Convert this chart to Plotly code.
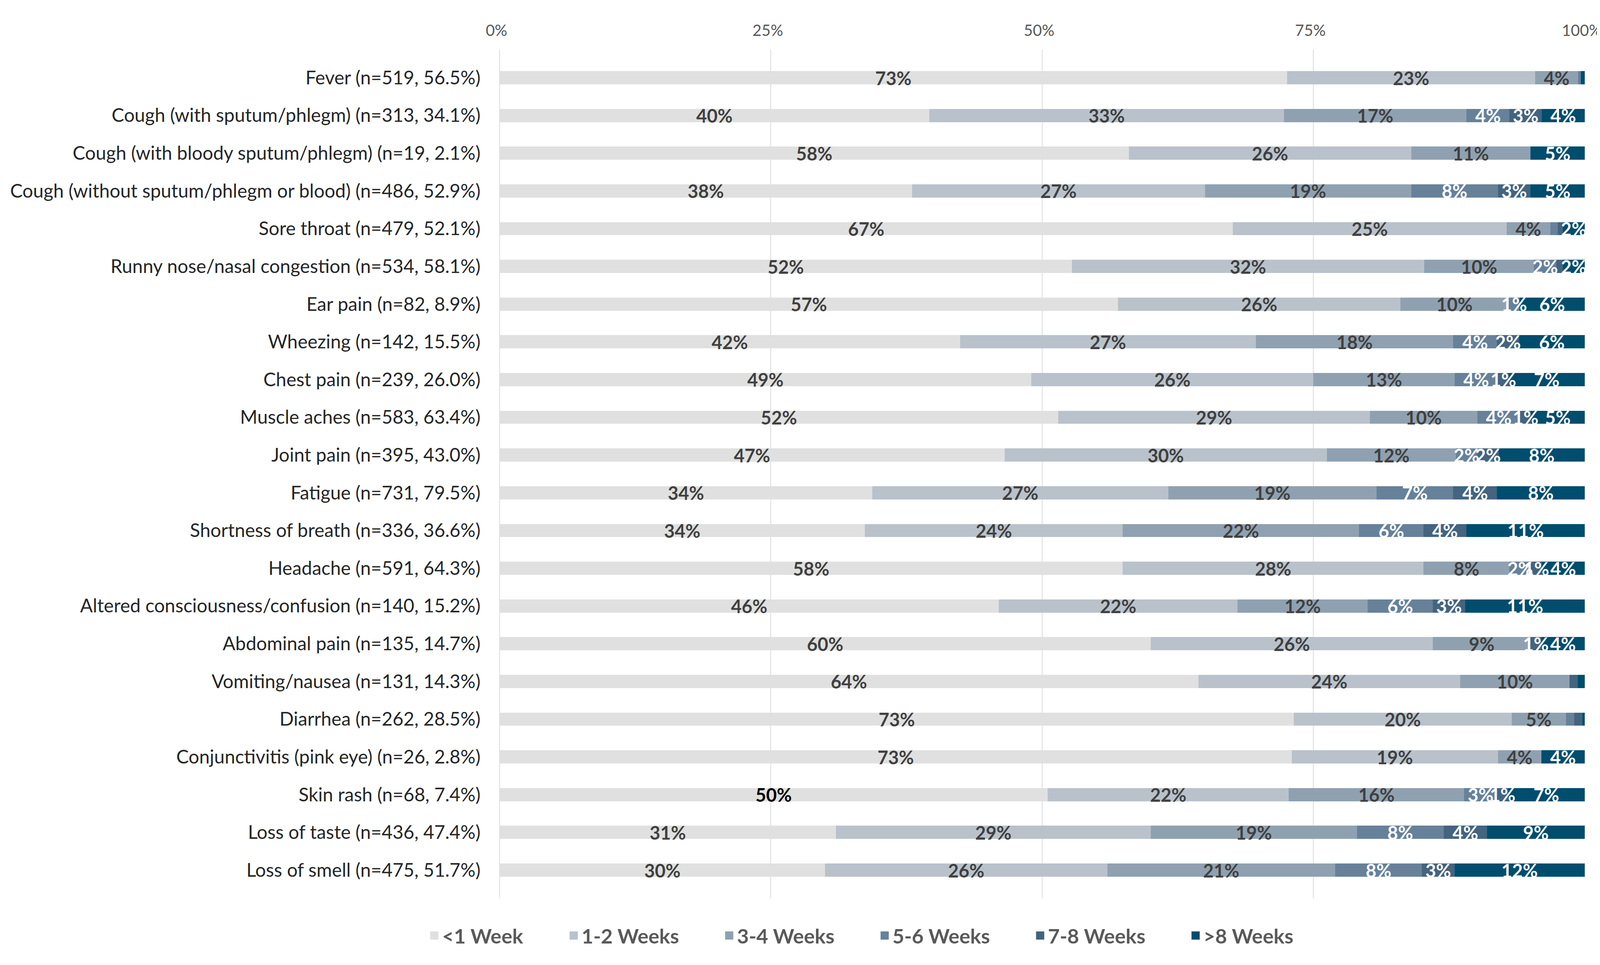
import plotly.graph_objects as go

categories = [
    "Fever (n=519, 56.5%)",
    "Cough (with sputum/phlegm) (n=313, 34.1%)",
    "Cough (with bloody sputum/phlegm) (n=19, 2.1%)",
    "Cough (without sputum/phlegm or blood) (n=486, 52.9%)",
    "Sore throat (n=479, 52.1%)",
    "Runny nose/nasal congestion (n=534, 58.1%)",
    "Ear pain (n=82, 8.9%)",
    "Wheezing (n=142, 15.5%)",
    "Chest pain (n=239, 26.0%)",
    "Muscle aches (n=583, 63.4%)",
    "Joint pain (n=395, 43.0%)",
    "Fatigue (n=731, 79.5%)",
    "Shortness of breath (n=336, 36.6%)",
    "Headache (n=591, 64.3%)",
    "Altered consciousness/confusion (n=140, 15.2%)",
    "Abdominal pain (n=135, 14.7%)",
    "Vomiting/nausea (n=131, 14.3%)",
    "Diarrhea (n=262, 28.5%)",
    "Conjunctivitis (pink eye) (n=26, 2.8%)",
    "Skin rash (n=68, 7.4%)",
    "Loss of taste (n=436, 47.4%)",
    "Loss of smell (n=475, 51.7%)",
]

series_names = ["<1 Week", "1-2 Weeks", "3-4 Weeks", "5-6 Weeks", "7-8 Weeks", ">8 Weeks"]

lt1_week = [73, 40, 58, 38, 67, 52, 57, 42, 49, 52, 47, 34, 34, 58, 46, 60, 64, 73, 73, 50, 31, 30]
weeks_1_2 = [23, 33, 26, 27, 25, 32, 26, 27, 26, 29, 30, 27, 24, 28, 22, 26, 24, 20, 19, 22, 29, 26]
weeks_3_4 = [4, 17, 11, 19, 4, 10, 10, 18, 13, 10, 12, 19, 22, 8, 12, 9, 10, 5, 4, 16, 19, 21]
weeks_5_6 = [0.25, 4, 0, 8, 0.7, 2, 1, 4, 4, 4, 2, 7, 6, 2, 6, 0, 0, 0.75, 0, 3, 8, 8]
weeks_7_8 = [0, 3, 0, 3, 0.45, 0.6, 0, 2, 1, 1, 2, 4, 4, 1, 3, 1, 0.75, 0.78, 0, 1, 4, 3]
gt8_weeks = [0.35, 4, 5, 5, 2, 2, 6, 6, 7, 5, 8, 8, 11, 4, 11, 4, 0.65, 0.2, 4, 7, 9, 12]

x_tick_vals = [0, 25, 50, 75, 100]
x_tick_text = ["0%", "25%", "50%", "75%", "100%"]

all_series = [lt1_week, weeks_1_2, weeks_3_4, weeks_5_6, weeks_7_8, gt8_weeks]
colors = ["#e0e0e0", "#b9c2cb", "#8fa1b1", "#67819a", "#44647f", "#004d6e"]
label_colors = ["#404040", "#404040", "#404040", "#ffffff", "#ffffff", "#ffffff"]
legend_widths = [312, 353, 353, 353, 353, 353]

FONT = "Lato"
n = len(categories)
pad = 0.745
label_drop = 0.07  # small downward nudge of data labels (style)
fig = go.Figure()

# stacked bars (normalised to 100% by plotly)
for name, vals, col in zip(series_names, all_series, colors):
    fig.add_trace(go.Bar(
        y=categories, x=vals, name=name, orientation="h",
        marker=dict(color=col, line=dict(width=0)),
        showlegend=False, legendgroup=name, hoverinfo="skip",
    ))

# data labels drawn above all bars (centre of each normalised segment)
totals = [sum(s[i] for s in all_series) for i in range(n)]
left = [0.0] * n
skin_idx = categories.index("Skin rash (n=68, 7.4%)")
for name, vals, lcol in zip(series_names, all_series, label_colors):
    xs, ys, ts, cs = [], [], [], []
    for i, v in enumerate(vals):
        if v >= 1:
            xs.append((left[i] + v / 2.0) / totals[i] * 100.0)
            ys.append(i + label_drop)
            ts.append(f"{v:.0f}%")
            cs.append("#000000" if (name == "<1 Week" and i == skin_idx) else lcol)
        left[i] += v
    fig.add_trace(go.Scatter(
        x=xs, y=ys, yaxis="y2", mode="text", text=ts, textposition="middle center",
        textfont=dict(family=FONT, size=47, color=cs, weight="bold"),
        showlegend=False, hoverinfo="skip", cliponaxis=False,
    ))

# legend entries (square swatches)
for name, col, lw in zip(series_names, colors, legend_widths):
    fig.add_trace(go.Scatter(
        x=[None], y=[None], mode="markers", name=name, legendgroup=name,
        marker=dict(symbol="square", size=16, color=col, line=dict(color=col, width=5)),
        legendwidth=lw, showlegend=True, hoverinfo="skip",
    ))

fig.update_layout(
    width=4120, height=2440,
    barmode="stack", barnorm="percent", bargap=0.65,
    plot_bgcolor="white", paper_bgcolor="white",
    margin=dict(l=1271, r=71, t=119, b=133),
    font=dict(family=FONT),
    showlegend=True,
    legend=dict(
        orientation="h", x=-0.0674, xanchor="left", y=-0.044, yanchor="middle",
        font=dict(family=FONT, size=52, color="#595959", weight="bold"),
        traceorder="normal", itemclick=False, itemdoubleclick=False,
    ),
    xaxis=dict(
        side="top", range=[0, 100.001], tickvals=x_tick_vals, ticktext=x_tick_text,
        showgrid=True, gridcolor="#dcdcdc", gridwidth=2,
        zeroline=True, zerolinecolor="#dcdcdc", zerolinewidth=2,
        showline=False, ticks="", ticklabelstandoff=26, ticklabeloverflow="allow",
        ticklabelshift=-8,
        tickfont=dict(family=FONT, size=40, color="#595959"),
        fixedrange=True,
    ),
    yaxis=dict(
        type="category", categoryorder="array", categoryarray=categories,
        range=[n - 1 + pad, -pad], showgrid=False, zeroline=False,
        showline=False, ticks="", ticklabelstandoff=48,
        tickfont=dict(family=FONT, size=48, color="#262626"),
        fixedrange=True,
    ),
    yaxis2=dict(
        overlaying="y", type="linear", range=[n - 1 + pad, -pad],
        visible=False, showgrid=False, zeroline=False, fixedrange=True,
    ),
)

fig.write_html("out.html")
